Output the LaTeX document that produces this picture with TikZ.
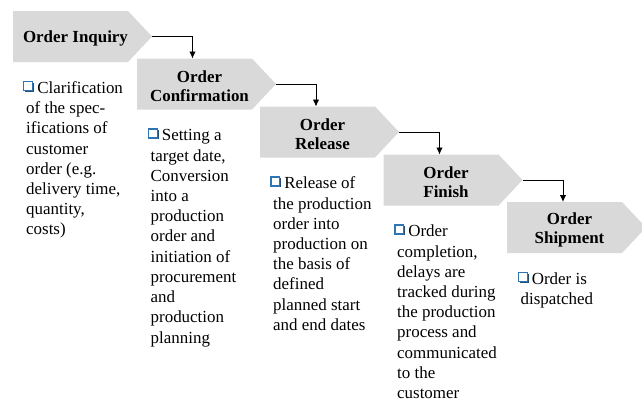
\documentclass[tikz,border=0pt]{standalone}
\usepackage{fontspec}
\setmainfont{Liberation Serif}
\usetikzlibrary{calc, arrows.meta}
\definecolor{stagegray}{HTML}{D9D9D9}
\definecolor{boxblue}{HTML}{2E75B6}
\definecolor{boxshadow}{HTML}{1F4E79}
% little shadowed square in front of each note
\newcommand\qbox{\strut\hspace*{-3bp}\tikz[baseline=0pt]{
    \fill[boxshadow] (2bp,1.4bp) rectangle (11.2bp,10.6bp);
    \filldraw[fill=white, draw=boxblue, line width=1.3bp] (0.7bp,3bp) rectangle (9.6bp,11.8bp);}\hspace{3bp}}
\def\stage#1{\fill[stagegray] (#1) -- ++(115,0) -- ++(24,25.5) -- ++(-24,25.5) -- ++(-115,0) -- cycle;}

\begin{document}
\begin{tikzpicture}[x=1bp, y=-1bp,
    title/.style={align=center, inner sep=0pt, font=\fontsize{17}{19}\selectfont\bfseries},
    note/.style={align=left, anchor=north west, inner sep=0pt, font=\fontsize{17}{20.3}\selectfont},
    flow/.style={line width=0.9bp, -{Latex[length=7bp, width=6.5bp]}}]
    \useasboundingbox (0,0) rectangle (642,398);

    \coordinate (S1) at (13,11);
    \coordinate (S2) at (137,58.5);
    \coordinate (S3) at (260,106.5);
    \coordinate (S4) at (383.5,154.5);
    \coordinate (S5) at (507,202);

    \stage{S1}
    \stage{S2}
    \stage{S3}
    \stage{S4}
    \stage{S5}

    % tips and arrow targets
    \coordinate (P1) at ($(S1)+(139,25.5)$);
    \coordinate (P2) at ($(S2)+(139,25.5)$);
    \coordinate (P3) at ($(S3)+(139,25.5)$);
    \coordinate (P4) at ($(S4)+(139,25.5)$);
    \coordinate (E2) at ($(S2)+(55.5,0)$);
    \coordinate (E3) at ($(S3)+(56,0)$);
    \coordinate (E4) at ($(S4)+(56,0)$);
    \coordinate (E5) at ($(S5)+(56,0)$);

    \node [title] (T1) at ($(S1)+(62.5,27.5)$) {Order Inquiry};
    \node [title] (T2) at ($(S2)+(62.5,27.5)$) {Order\\Confirmation};
    \node [title] (T3) at ($(S3)+(62.5,27.5)$) {Order\\Release};
    \node [title] (T4) at ($(S4)+(62.5,27.5)$) {Order\\Finish};
    \node [title] (T5) at ($(S5)+(62.5,27.5)$) {Order\\Shipment};

    \node [note] (N1) at ($(S1)+(13,68)$) {\qbox Clarification\\of the spec-\\ifications of\\customer\\order (e.g.\\delivery time,\\quantity,\\costs)};
    \node [note] (N2) at ($(S2)+(13.5,68)$) {\qbox Setting a\\target date,\\Conversion\\into a\\production\\order and\\initiation of\\procurement\\and\\production\\planning};
    \node [note] (N3) at ($(S3)+(13,68)$) {\qbox Release of\\the production\\order into\\production on\\the basis of\\defined\\planned start\\and end dates};
    \node [note] (N4) at ($(S4)+(13.5,68)$) {\qbox Order\\completion,\\delays are\\tracked during\\the production\\process and\\communicated\\to the\\customer};
    \node [note] (N5) at ($(S5)+(13.5,68)$) {\qbox Order is\\dispatched};

    \draw [flow] (P1) -| (E2);
    \draw [flow] (P2) -| (E3);
    \draw [flow] (P3) -| (E4);
    \draw [flow] (P4) -| (E5);
\end{tikzpicture}
\end{document}
